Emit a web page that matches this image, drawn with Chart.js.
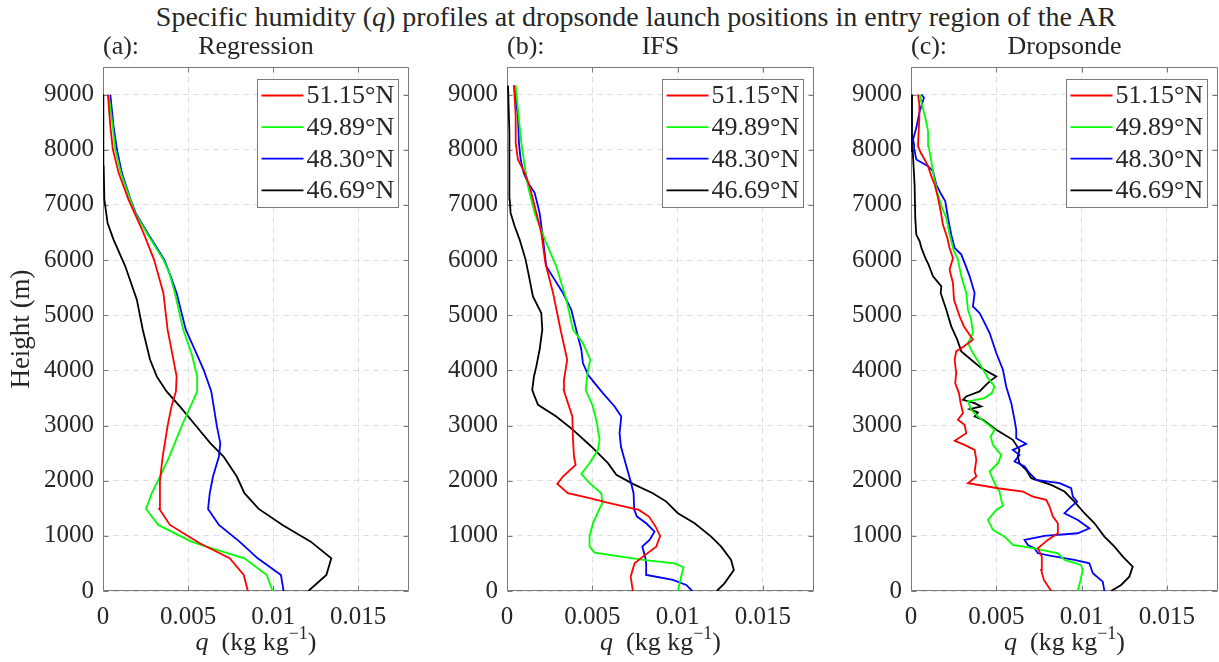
<!DOCTYPE html>
<html>
<head>
<meta charset="utf-8">
<script src="https://cdn.jsdelivr.net/npm/chart.js@4.4.1/dist/chart.umd.min.js"></script>
<style>
  html, body { margin: 0; padding: 0; background: #fff; }
  #fig { position: relative; width: 1219px; height: 662px; overflow: hidden; font-family: "Liberation Serif", serif; color: #262626; }
  #fig canvas { position: absolute; top: 0; }
  #suptitle { position: absolute; top: -1px; left: 636px; transform: translateX(-50%); white-space: nowrap; font-size: 28px; line-height: 36px; }
</style>
</head>
<body>
<div id="fig">
  <div id="suptitle">Specific humidity (<i>q</i>) profiles at dropsonde launch positions in entry region of the AR</div>
  <canvas id="panelA" width="420" height="662" style="left:0px"></canvas>
  <canvas id="panelB" width="400" height="662" style="left:420px"></canvas>
  <canvas id="panelC" width="399" height="662" style="left:820px"></canvas>
</div>
<script>
// launch latitudes and line colours
const latLabels = ['51.15°N', '49.89°N', '48.30°N', '46.69°N'];
const latColors = ['#ff0000', '#00ff00', '#0000ff', '#000000'];

// axis ticks
const heightTicks = [0, 1000, 2000, 3000, 4000, 5000, 6000, 7000, 8000, 9000];
const qTicks = [0, 0.005, 0.01, 0.015];
const qTickLabels = ['0', '0.005', '0.01', '0.015'];

// (a) Regression: height (m) and q (kg/kg)
const reg51H = [0, 290, 593, 865, 1198, 1488, 1996, 2438, 2995, 3346, 3618, 3890, 4737, 5403, 6008, 6492, 7097, 7581, 8004, 8428, 9000];
const reg51Q = [0.00852, 0.00828, 0.00745, 0.00569, 0.00394, 0.00331, 0.00335, 0.00351, 0.0038, 0.00403, 0.00429, 0.00433, 0.0038, 0.00355, 0.003, 0.00238, 0.0015, 0.00092, 0.00058, 0.00043, 0.00029];
const reg49H = [0, 290, 593, 805, 895, 1198, 1488, 1773, 2075, 2438, 2983, 3346, 3618, 3890, 4314, 4737, 5403, 5766, 6008, 6492, 6855, 7097, 7581, 8004, 8428, 9000];
const reg49Q = [0.00998, 0.00963, 0.00832, 0.00608, 0.0052, 0.00325, 0.00253, 0.00287, 0.00335, 0.0039, 0.00462, 0.00515, 0.00554, 0.00554, 0.0052, 0.00472, 0.00423, 0.0039, 0.00355, 0.00257, 0.00189, 0.0016, 0.00105, 0.00072, 0.00057, 0.00033];
const reg48H = [0, 290, 593, 895, 1198, 1488, 1773, 2075, 2438, 2680, 2983, 3618, 4011, 4374, 4737, 5403, 5705, 6008, 6492, 6855, 7097, 7581, 8004, 8428, 9000];
const reg48Q = [0.01062, 0.01047, 0.0091, 0.00803, 0.00682, 0.00618, 0.00628, 0.00647, 0.00682, 0.0069, 0.0067, 0.00637, 0.00592, 0.0054, 0.00487, 0.00433, 0.00398, 0.0036, 0.00262, 0.00192, 0.00162, 0.00111, 0.00082, 0.00062, 0.00043];
const reg46H = [0, 290, 593, 895, 1198, 1488, 1773, 2075, 2438, 2680, 2983, 3346, 3618, 3890, 4193, 4737, 5282, 5887, 6371, 6673, 7097, 7702, 9000];
const reg46Q = [0.01208, 0.01314, 0.01343, 0.01222, 0.01056, 0.00916, 0.00832, 0.00787, 0.00709, 0.00631, 0.0055, 0.00452, 0.00374, 0.00316, 0.00277, 0.00234, 0.00199, 0.00131, 0.00062, 0.00027, 0.00008, 0.00004, 0.00002];

// (b) IFS
const ifs51H = [0, 260, 502, 623, 805, 998, 1168, 1349, 1470, 1591, 1682, 1773, 1942, 2075, 2287, 2438, 2741, 3164, 3648, 3830, 4193, 4737, 5403, 5947, 6492, 6855, 7339, 7581, 7823, 8125, 8610, 9166];
const ifs51Q = [0.00738, 0.00725, 0.00748, 0.00797, 0.00875, 0.00898, 0.00871, 0.00832, 0.00773, 0.00601, 0.00484, 0.00357, 0.00295, 0.00328, 0.00402, 0.00393, 0.00387, 0.00383, 0.00332, 0.00334, 0.00353, 0.00314, 0.0027, 0.00225, 0.00201, 0.00172, 0.00133, 0.00104, 0.00064, 0.00051, 0.00051, 0.00041];
const ifs49H = [0, 260, 430, 502, 563, 696, 805, 998, 1228, 1470, 1591, 1773, 1954, 2124, 2317, 2559, 2741, 3043, 3346, 3648, 4011, 4193, 4495, 4737, 5282, 5887, 6310, 6855, 7339, 7702, 8125, 8610, 9166];
const ifs49Q = [0.01002, 0.01021, 0.01035, 0.00982, 0.00797, 0.00514, 0.00484, 0.00484, 0.00504, 0.00539, 0.00559, 0.00553, 0.00484, 0.00436, 0.00484, 0.00533, 0.00543, 0.00527, 0.00504, 0.00461, 0.00475, 0.00488, 0.00445, 0.00387, 0.00348, 0.00289, 0.0023, 0.00162, 0.00123, 0.00104, 0.00084, 0.00068, 0.00051];
const ifs48H = [0, 109, 200, 290, 502, 623, 805, 926, 1077, 1228, 1349, 1470, 1773, 1954, 2317, 2620, 2862, 3164, 3346, 3588, 3769, 3920, 4132, 4374, 4737, 5100, 5403, 5645, 5887, 6129, 6492, 6855, 7097, 7218, 7400, 7581, 7823, 8125, 8610, 9166];
const ifs48Q = [0.01086, 0.01051, 0.00973, 0.0082, 0.00816, 0.0081, 0.00793, 0.00836, 0.00865, 0.00816, 0.00762, 0.00746, 0.00742, 0.00728, 0.00695, 0.00668, 0.0066, 0.0067, 0.00631, 0.00562, 0.00514, 0.00475, 0.00445, 0.00436, 0.00406, 0.00377, 0.00328, 0.00279, 0.0023, 0.00221, 0.00207, 0.00191, 0.00172, 0.00162, 0.00123, 0.00098, 0.0008, 0.0007, 0.00064, 0.00041];
const ifs46H = [0, 139, 381, 563, 805, 986, 1228, 1410, 1621, 1773, 1942, 2106, 2317, 2620, 2922, 3164, 3376, 3527, 3648, 3890, 4072, 4374, 4737, 5040, 5342, 5705, 6008, 6371, 6613, 6855, 7097, 7702, 8307, 9166];
const ifs46Q = [0.0123, 0.01275, 0.0133, 0.01314, 0.01256, 0.01197, 0.011, 0.01002, 0.00934, 0.00855, 0.00738, 0.00641, 0.00592, 0.00494, 0.00387, 0.00289, 0.00182, 0.00162, 0.00148, 0.00158, 0.00172, 0.00191, 0.00207, 0.00201, 0.00152, 0.00129, 0.00109, 0.00074, 0.00045, 0.00021, 0.00016, 0.00016, 0.00012, 0.00006];

// (c) Dropsonde
const ds51H = [0, 200, 381, 623, 774, 926, 1047, 1228, 1349, 1531, 1652, 1712, 1803, 1863, 1954, 2075, 2166, 2378, 2559, 2650, 2722, 2862, 3013, 3104, 3225, 3406, 3588, 3769, 3951, 4193, 4344, 4423, 4556, 4798, 4979, 5282, 5584, 5826, 6038, 6220, 6401, 6643, 6885, 7127, 7369, 7520, 7702, 7823, 7944, 8065, 8337, 8579, 8821, 9002];
const ds51Q = [0.00822, 0.00779, 0.00763, 0.00767, 0.00744, 0.00802, 0.00861, 0.00861, 0.00832, 0.00812, 0.00793, 0.00714, 0.00656, 0.0051, 0.00334, 0.00383, 0.00373, 0.00383, 0.00373, 0.00314, 0.00256, 0.00324, 0.00314, 0.00275, 0.00305, 0.00291, 0.00281, 0.00259, 0.00265, 0.00256, 0.00265, 0.00305, 0.00363, 0.0031, 0.00285, 0.00252, 0.00246, 0.00226, 0.00246, 0.00226, 0.00213, 0.00187, 0.00174, 0.00158, 0.00139, 0.00119, 0.001, 0.0008, 0.00057, 0.00041, 0.00045, 0.00049, 0.00049, 0.00041];
const ds49H = [0, 200, 381, 472, 563, 684, 774, 835, 986, 1107, 1289, 1470, 1543, 1652, 1803, 1954, 2166, 2317, 2468, 2650, 2801, 2922, 3043, 3164, 3285, 3437, 3497, 3588, 3709, 3860, 4072, 4314, 4495, 4677, 4919, 5100, 5403, 5705, 6008, 6159, 6461, 6764, 6945, 7187, 7490, 7793, 8065, 8337, 8579, 8821, 9002];
const ds49Q = [0.00978, 0.00994, 0.01007, 0.00997, 0.009, 0.00861, 0.00724, 0.00597, 0.00549, 0.0048, 0.00451, 0.005, 0.00539, 0.00529, 0.00519, 0.0049, 0.00461, 0.0051, 0.00529, 0.0048, 0.00467, 0.0049, 0.00441, 0.00392, 0.00353, 0.00334, 0.00431, 0.00474, 0.0049, 0.00451, 0.00412, 0.00363, 0.00334, 0.00363, 0.00353, 0.00334, 0.00324, 0.00295, 0.00275, 0.00252, 0.00226, 0.00207, 0.00182, 0.00158, 0.00135, 0.00119, 0.00103, 0.001, 0.00084, 0.00064, 0.00051];
const ds48H = [0, 169, 321, 502, 563, 635, 684, 774, 835, 926, 998, 1047, 1137, 1289, 1410, 1531, 1621, 1712, 1863, 1954, 2015, 2136, 2257, 2347, 2468, 2559, 2668, 2771, 2922, 3104, 3406, 3709, 4011, 4314, 4677, 4919, 5040, 5161, 5403, 5705, 5917, 6099, 6220, 6461, 6764, 7066, 7187, 7369, 7611, 7702, 7823, 7974, 8095, 8186, 8397, 8700, 8942, 9002];
const ds48Q = [0.01134, 0.01124, 0.01066, 0.01046, 0.00958, 0.00822, 0.00744, 0.00724, 0.00685, 0.00666, 0.00783, 0.00978, 0.01046, 0.00978, 0.009, 0.00939, 0.00974, 0.00949, 0.00939, 0.00871, 0.00734, 0.00695, 0.00666, 0.00607, 0.00636, 0.00597, 0.00675, 0.00617, 0.00617, 0.00607, 0.00588, 0.00558, 0.00539, 0.005, 0.00461, 0.00422, 0.00402, 0.00363, 0.00373, 0.00344, 0.00318, 0.00295, 0.00256, 0.00236, 0.00217, 0.00201, 0.00178, 0.00148, 0.00129, 0.001, 0.00031, 0.00021, 0.00018, 0.00012, 0.00031, 0.00051, 0.00076, 0.00061];
const ds46H = [0, 109, 260, 442, 623, 805, 986, 1228, 1410, 1621, 1803, 1924, 2045, 2196, 2317, 2438, 2559, 2741, 2922, 3013, 3104, 3164, 3237, 3297, 3346, 3406, 3467, 3527, 3618, 3709, 3800, 3890, 4041, 4193, 4344, 4556, 4798, 5100, 5403, 5524, 5705, 5917, 6038, 6220, 6340, 6461, 6764, 7369, 7974, 8579, 9002];
const ds46Q = [0.01173, 0.01232, 0.0128, 0.013, 0.01242, 0.01193, 0.01134, 0.01076, 0.01017, 0.00958, 0.009, 0.00822, 0.00705, 0.00675, 0.00636, 0.00626, 0.00636, 0.00597, 0.005, 0.00461, 0.00422, 0.00373, 0.00392, 0.00344, 0.00412, 0.00373, 0.00305, 0.00324, 0.00402, 0.00431, 0.00461, 0.005, 0.00412, 0.00353, 0.00295, 0.00271, 0.00236, 0.00207, 0.00174, 0.00178, 0.00129, 0.00103, 0.00084, 0.00061, 0.00051, 0.00031, 0.00025, 0.00021, 0.0001, 0.00006, 0.00006];

const SERIF = '"Liberation Serif", "Times New Roman", serif';
const TEXT_COLOR = '#262626';
const AXIS_COLOR = '#7a7a7a';
const GRID_COLOR = 'rgba(38, 38, 38, 0.14)';

function profile(heights, qs, i) {
    return {
        label: latLabels[i],
        data: heights.map((h, k) => ({ x: qs[k], y: h })),
        borderColor: latColors[i],
        borderWidth: 1.8,
        pointRadius: 0,
        showLine: true,
        fill: false,
        tension: 0
    };
}

// box, inward ticks, panel titles, x label and legend, drawn MATLAB-style
const axesDecor = {
    id: 'axesDecor',
    beforeDatasetsDraw(chart) {
        const { ctx, chartArea: a, scales } = chart;
        const L = Math.round(a.left) + 0.5, R = Math.round(a.right) - 0.5;
        const T = Math.round(a.top) + 0.5, B = Math.round(a.bottom) - 0.5;
        ctx.save();
        ctx.strokeStyle = AXIS_COLOR;
        ctx.lineWidth = 1;
        ctx.beginPath();
        ctx.rect(L, T, R - L, B - T);
        qTicks.forEach(v => {
            const x = Math.round(scales.x.getPixelForValue(v)) + 0.5;
            ctx.moveTo(x, B); ctx.lineTo(x, B - 5);
            ctx.moveTo(x, T); ctx.lineTo(x, T + 5);
        });
        heightTicks.forEach(v => {
            const y = Math.round(scales.y.getPixelForValue(v)) + 0.5;
            ctx.moveTo(L, y); ctx.lineTo(L + 5, y);
            ctx.moveTo(R, y); ctx.lineTo(R - 5, y);
        });
        ctx.stroke();
        ctx.restore();
    },
    afterDraw(chart, args, opts) {
        const { ctx, chartArea: a } = chart;
        const cx = (a.left + a.right) / 2;
        ctx.save();
        ctx.fillStyle = TEXT_COLOR;
        ctx.font = '26px ' + SERIF;
        ctx.textBaseline = 'alphabetic';

        // panel title
        ctx.textAlign = 'left';
        ctx.fillText(opts.tag, a.left, 54);
        ctx.textAlign = 'center';
        ctx.fillText(opts.title, cx, 54);

        // x label: q (kg kg^-1)
        const parts = [
            { t: 'q', f: 'italic 26px ' + SERIF, dy: 0 },
            { t: '  (kg kg', f: '26px ' + SERIF, dy: 0 },
            { t: '\u22121', f: '18px ' + SERIF, dy: -11 },
            { t: ')', f: '26px ' + SERIF, dy: 0 }
        ];
        let w = 0;
        parts.forEach(p => { ctx.font = p.f; p.w = ctx.measureText(p.t).width; w += p.w; });
        let x = cx - w / 2;
        ctx.textAlign = 'left';
        parts.forEach(p => { ctx.font = p.f; ctx.fillText(p.t, x, 650 + p.dy); x += p.w; });

        // legend box in the upper right corner
        const bw = 141, bh = 128;
        const bx = Math.round(a.right - 11.5 - bw) + 0.5, by = Math.round(a.top + 12) + 0.5;
        ctx.fillStyle = '#ffffff';
        ctx.fillRect(bx, by, bw, bh);
        ctx.strokeStyle = AXIS_COLOR;
        ctx.lineWidth = 1;
        ctx.strokeRect(bx, by, bw, bh);
        ctx.font = '26px ' + SERIF;
        ctx.textBaseline = 'middle';
        chart.data.datasets.forEach((ds, i) => {
            const ly = by + 16 + i * 31.6;
            ctx.strokeStyle = ds.borderColor;
            ctx.lineWidth = 1.8;
            ctx.beginPath();
            ctx.moveTo(bx + 4, ly); ctx.lineTo(bx + 46, ly);
            ctx.stroke();
            ctx.fillStyle = TEXT_COLOR;
            ctx.fillText(ds.label, bx + 49, ly + 1);
        });
        ctx.restore();
    }
};

function makePanel(id, tag, title, series, pad, yWidth, showYTitle) {
    new Chart(document.getElementById(id), {
        type: 'scatter',
        data: { datasets: series.map((s, i) => profile(s[0], s[1], i)) },
        options: {
            responsive: false,
            animation: false,
            events: [],
            layout: { padding: pad },
            plugins: {
                legend: { display: false },
                tooltip: { enabled: false },
                axesDecor: { tag: tag, title: title }
            },
            scales: {
                x: {
                    type: 'linear',
                    min: 0,
                    max: 0.018,
                    afterBuildTicks: s => { s.ticks = qTicks.map(v => ({ value: v })); },
                    afterFit: s => { s.height = 71; },
                    grid: { color: GRID_COLOR, drawTicks: false, lineWidth: 1 },
                    border: { display: false, dash: [6, 4] },
                    ticks: {
                        padding: 11,
                        color: TEXT_COLOR,
                        font: { family: SERIF, size: 25 },
                        maxRotation: 0,
                        callback: (v, i) => qTickLabels[i]
                    }
                },
                y: {
                    type: 'linear',
                    min: 0,
                    max: 9500,
                    afterBuildTicks: s => { s.ticks = heightTicks.map(v => ({ value: v })); },
                    afterFit: s => { s.width = yWidth; },
                    grid: { color: GRID_COLOR, drawTicks: false, lineWidth: 1 },
                    border: { display: false, dash: [6, 4] },
                    ticks: {
                        padding: 9,
                        color: TEXT_COLOR,
                        font: { family: SERIF, size: 25 },
                        callback: v => String(v)
                    },
                    title: {
                        display: showYTitle,
                        text: 'Height (m)',
                        color: TEXT_COLOR,
                        font: { family: SERIF, size: 27 },
                        padding: { top: 6, bottom: 0 }
                    }
                }
            }
        },
        plugins: [axesDecor]
    });
}

makePanel('panelA', '(a):', 'Regression',
    [[reg51H, reg51Q], [reg49H, reg49Q], [reg48H, reg48Q], [reg46H, reg46Q]],
    { left: 0, right: 11, top: 67, bottom: 0 }, 103, true);
makePanel('panelB', '(b):', 'IFS',
    [[ifs51H, ifs51Q], [ifs49H, ifs49Q], [ifs48H, ifs48Q], [ifs46H, ifs46Q]],
    { left: 0, right: 6, top: 67, bottom: 0 }, 87, false);
makePanel('panelC', '(c):', 'Dropsonde',
    [[ds51H, ds51Q], [ds49H, ds49Q], [ds48H, ds48Q], [ds46H, ds46Q]],
    { left: 0, right: 1, top: 67, bottom: 0 }, 91, false);
</script>
</body>
</html>
